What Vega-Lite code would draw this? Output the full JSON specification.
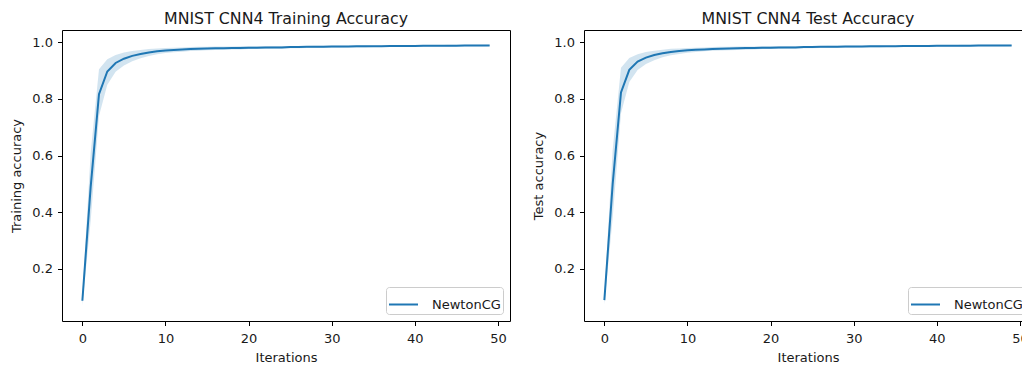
{
  "$schema": "https://vega.github.io/schema/vega-lite/v6.json",
  "background": "white",
  "padding": {"left": 10, "top": 10, "right": 0, "bottom": 0},
  "autosize": {"type": "pad"},
  "config": {
    "font": "DejaVu Sans",
    "view": {"stroke": "#000000", "strokeWidth": 1},
    "axis": {"domain": false, "grid": false, "tickColor": "#000000", "tickSize": 4.5, "tickWidth": 1, "labelFontSize": 13, "labelColor": "#1a1a1a", "titleFontSize": 13, "titleFontWeight": "normal", "titleColor": "#1a1a1a", "labelFont": "DejaVu Sans", "titleFont": "DejaVu Sans", "labelPadding": 5},
    "axisY": {"titlePadding": 8},
    "axisX": {"titlePadding": 6, "labelPadding": 7},
    "title": {"fontSize": 15.8, "fontWeight": "normal", "color": "#1a1a1a", "font": "DejaVu Sans", "offset": 2, "anchor": "middle"},
    "legend": {"orient": "bottom-right", "offset": 7, "symbolType": "stroke", "symbolSize": 841, "symbolStrokeWidth": 2, "labelFontSize": 13, "labelColor": "#1a1a1a", "labelFont": "DejaVu Sans", "padding": 2, "strokeColor": "#cccccc", "fillColor": "#ffffff", "cornerRadius": 3, "labelOffset": 13}
  },
  "datasets": {
    "train": [
      {"it": 0, "acc": 0.088, "lo": 0.072, "hi": 0.104},
      {"it": 1, "acc": 0.490, "lo": 0.370, "hi": 0.610},
      {"it": 2, "acc": 0.817, "lo": 0.740, "hi": 0.905},
      {"it": 3, "acc": 0.897, "lo": 0.850, "hi": 0.940},
      {"it": 4, "acc": 0.927, "lo": 0.896, "hi": 0.955},
      {"it": 5, "acc": 0.942, "lo": 0.918, "hi": 0.964},
      {"it": 6, "acc": 0.952, "lo": 0.933, "hi": 0.969},
      {"it": 7, "acc": 0.959, "lo": 0.944, "hi": 0.973},
      {"it": 8, "acc": 0.964, "lo": 0.952, "hi": 0.976},
      {"it": 9, "acc": 0.968, "lo": 0.958, "hi": 0.978},
      {"it": 10, "acc": 0.971, "lo": 0.962, "hi": 0.980},
      {"it": 11, "acc": 0.973, "lo": 0.965, "hi": 0.981},
      {"it": 12, "acc": 0.975, "lo": 0.967, "hi": 0.982},
      {"it": 13, "acc": 0.976, "lo": 0.969, "hi": 0.983},
      {"it": 14, "acc": 0.977, "lo": 0.970, "hi": 0.984},
      {"it": 15, "acc": 0.978, "lo": 0.972, "hi": 0.984},
      {"it": 16, "acc": 0.979, "lo": 0.973, "hi": 0.985},
      {"it": 17, "acc": 0.979, "lo": 0.974, "hi": 0.985},
      {"it": 18, "acc": 0.980, "lo": 0.975, "hi": 0.985},
      {"it": 19, "acc": 0.980, "lo": 0.975, "hi": 0.986},
      {"it": 20, "acc": 0.981, "lo": 0.976, "hi": 0.986},
      {"it": 21, "acc": 0.981, "lo": 0.977, "hi": 0.986},
      {"it": 22, "acc": 0.982, "lo": 0.977, "hi": 0.986},
      {"it": 23, "acc": 0.982, "lo": 0.978, "hi": 0.987},
      {"it": 24, "acc": 0.982, "lo": 0.978, "hi": 0.987},
      {"it": 25, "acc": 0.983, "lo": 0.979, "hi": 0.987},
      {"it": 26, "acc": 0.983, "lo": 0.979, "hi": 0.987},
      {"it": 27, "acc": 0.984, "lo": 0.980, "hi": 0.987},
      {"it": 28, "acc": 0.984, "lo": 0.980, "hi": 0.988},
      {"it": 29, "acc": 0.984, "lo": 0.980, "hi": 0.988},
      {"it": 30, "acc": 0.985, "lo": 0.981, "hi": 0.988},
      {"it": 31, "acc": 0.985, "lo": 0.981, "hi": 0.988},
      {"it": 32, "acc": 0.985, "lo": 0.982, "hi": 0.988},
      {"it": 33, "acc": 0.986, "lo": 0.982, "hi": 0.989},
      {"it": 34, "acc": 0.986, "lo": 0.982, "hi": 0.989},
      {"it": 35, "acc": 0.986, "lo": 0.983, "hi": 0.989},
      {"it": 36, "acc": 0.986, "lo": 0.983, "hi": 0.989},
      {"it": 37, "acc": 0.987, "lo": 0.983, "hi": 0.989},
      {"it": 38, "acc": 0.987, "lo": 0.984, "hi": 0.990},
      {"it": 39, "acc": 0.987, "lo": 0.984, "hi": 0.990},
      {"it": 40, "acc": 0.987, "lo": 0.984, "hi": 0.990},
      {"it": 41, "acc": 0.988, "lo": 0.985, "hi": 0.990},
      {"it": 42, "acc": 0.988, "lo": 0.985, "hi": 0.990},
      {"it": 43, "acc": 0.988, "lo": 0.985, "hi": 0.990},
      {"it": 44, "acc": 0.988, "lo": 0.985, "hi": 0.991},
      {"it": 45, "acc": 0.988, "lo": 0.986, "hi": 0.991},
      {"it": 46, "acc": 0.989, "lo": 0.986, "hi": 0.991},
      {"it": 47, "acc": 0.989, "lo": 0.986, "hi": 0.991},
      {"it": 48, "acc": 0.989, "lo": 0.986, "hi": 0.991},
      {"it": 49, "acc": 0.989, "lo": 0.987, "hi": 0.991}
    ],
    "test": [
      {"it": 0, "acc": 0.090, "lo": 0.075, "hi": 0.106},
      {"it": 1, "acc": 0.500, "lo": 0.380, "hi": 0.620},
      {"it": 2, "acc": 0.823, "lo": 0.750, "hi": 0.910},
      {"it": 3, "acc": 0.903, "lo": 0.860, "hi": 0.945},
      {"it": 4, "acc": 0.932, "lo": 0.902, "hi": 0.958},
      {"it": 5, "acc": 0.946, "lo": 0.923, "hi": 0.966},
      {"it": 6, "acc": 0.955, "lo": 0.937, "hi": 0.970},
      {"it": 7, "acc": 0.961, "lo": 0.947, "hi": 0.974},
      {"it": 8, "acc": 0.966, "lo": 0.954, "hi": 0.977},
      {"it": 9, "acc": 0.969, "lo": 0.959, "hi": 0.978},
      {"it": 10, "acc": 0.972, "lo": 0.963, "hi": 0.980},
      {"it": 11, "acc": 0.974, "lo": 0.966, "hi": 0.981},
      {"it": 12, "acc": 0.975, "lo": 0.968, "hi": 0.982},
      {"it": 13, "acc": 0.976, "lo": 0.970, "hi": 0.983},
      {"it": 14, "acc": 0.977, "lo": 0.971, "hi": 0.984},
      {"it": 15, "acc": 0.978, "lo": 0.972, "hi": 0.984},
      {"it": 16, "acc": 0.979, "lo": 0.973, "hi": 0.985},
      {"it": 17, "acc": 0.980, "lo": 0.974, "hi": 0.985},
      {"it": 18, "acc": 0.980, "lo": 0.975, "hi": 0.985},
      {"it": 19, "acc": 0.981, "lo": 0.976, "hi": 0.986},
      {"it": 20, "acc": 0.981, "lo": 0.976, "hi": 0.986},
      {"it": 21, "acc": 0.982, "lo": 0.977, "hi": 0.986},
      {"it": 22, "acc": 0.982, "lo": 0.978, "hi": 0.987},
      {"it": 23, "acc": 0.982, "lo": 0.978, "hi": 0.987},
      {"it": 24, "acc": 0.983, "lo": 0.979, "hi": 0.987},
      {"it": 25, "acc": 0.983, "lo": 0.979, "hi": 0.987},
      {"it": 26, "acc": 0.984, "lo": 0.980, "hi": 0.987},
      {"it": 27, "acc": 0.984, "lo": 0.980, "hi": 0.988},
      {"it": 28, "acc": 0.984, "lo": 0.980, "hi": 0.988},
      {"it": 29, "acc": 0.985, "lo": 0.981, "hi": 0.988},
      {"it": 30, "acc": 0.985, "lo": 0.981, "hi": 0.988},
      {"it": 31, "acc": 0.985, "lo": 0.982, "hi": 0.988},
      {"it": 32, "acc": 0.986, "lo": 0.982, "hi": 0.989},
      {"it": 33, "acc": 0.986, "lo": 0.982, "hi": 0.989},
      {"it": 34, "acc": 0.986, "lo": 0.983, "hi": 0.989},
      {"it": 35, "acc": 0.986, "lo": 0.983, "hi": 0.989},
      {"it": 36, "acc": 0.987, "lo": 0.983, "hi": 0.989},
      {"it": 37, "acc": 0.987, "lo": 0.984, "hi": 0.990},
      {"it": 38, "acc": 0.987, "lo": 0.984, "hi": 0.990},
      {"it": 39, "acc": 0.987, "lo": 0.984, "hi": 0.990},
      {"it": 40, "acc": 0.988, "lo": 0.985, "hi": 0.990},
      {"it": 41, "acc": 0.988, "lo": 0.985, "hi": 0.990},
      {"it": 42, "acc": 0.988, "lo": 0.985, "hi": 0.990},
      {"it": 43, "acc": 0.988, "lo": 0.985, "hi": 0.991},
      {"it": 44, "acc": 0.988, "lo": 0.986, "hi": 0.991},
      {"it": 45, "acc": 0.989, "lo": 0.986, "hi": 0.991},
      {"it": 46, "acc": 0.989, "lo": 0.986, "hi": 0.991},
      {"it": 47, "acc": 0.989, "lo": 0.986, "hi": 0.991},
      {"it": 48, "acc": 0.989, "lo": 0.986, "hi": 0.991},
      {"it": 49, "acc": 0.989, "lo": 0.987, "hi": 0.991}
    ]
  },
  "spacing": 74,
  "bounds": "flush",
  "resolve": {"scale": {"color": "independent"}, "legend": {"color": "independent"}},
  "hconcat": [
    {
      "width": 448,
      "height": 291,
      "title": {"text": "MNIST CNN4 Training Accuracy"},
      "data": {"name": "train"},
      "encoding": {
        "x": {"field": "it", "type": "quantitative", "scale": {"domain": [-2.45, 51.45], "nice": false, "zero": false}, "axis": {"values": [0, 10, 20, 30, 40, 50], "title": "Iterations"}}
      },
      "layer": [
        {
          "mark": {"type": "area", "color": "#1f77b4", "opacity": 0.2},
          "encoding": {
            "y": {"field": "lo", "type": "quantitative", "scale": {"domain": [0.0164, 1.0434], "nice": false, "zero": false}, "axis": {"values": [0.2, 0.4, 0.6, 0.8, 1.0], "format": ".1f", "title": "Training accuracy"}},
            "y2": {"field": "hi"}
          }
        },
        {
          "mark": {"type": "line", "strokeWidth": 2},
          "encoding": {
            "y": {"field": "acc", "type": "quantitative"},
            "color": {"datum": "NewtonCG", "type": "nominal", "scale": {"range": ["#1f77b4"]}, "legend": {"title": null}}
          }
        }
      ]
    },
    {
      "width": 448,
      "height": 291,
      "title": {"text": "MNIST CNN4 Test Accuracy"},
      "data": {"name": "test"},
      "encoding": {
        "x": {"field": "it", "type": "quantitative", "scale": {"domain": [-2.45, 51.45], "nice": false, "zero": false}, "axis": {"values": [0, 10, 20, 30, 40, 50], "title": "Iterations"}}
      },
      "layer": [
        {
          "mark": {"type": "area", "color": "#1f77b4", "opacity": 0.2},
          "encoding": {
            "y": {"field": "lo", "type": "quantitative", "scale": {"domain": [0.0164, 1.0434], "nice": false, "zero": false}, "axis": {"values": [0.2, 0.4, 0.6, 0.8, 1.0], "format": ".1f", "title": "Test accuracy"}},
            "y2": {"field": "hi"}
          }
        },
        {
          "mark": {"type": "line", "strokeWidth": 2},
          "encoding": {
            "y": {"field": "acc", "type": "quantitative"},
            "color": {"datum": "NewtonCG", "type": "nominal", "scale": {"range": ["#1f77b4"]}, "legend": {"title": null}}
          }
        }
      ]
    }
  ]
}
